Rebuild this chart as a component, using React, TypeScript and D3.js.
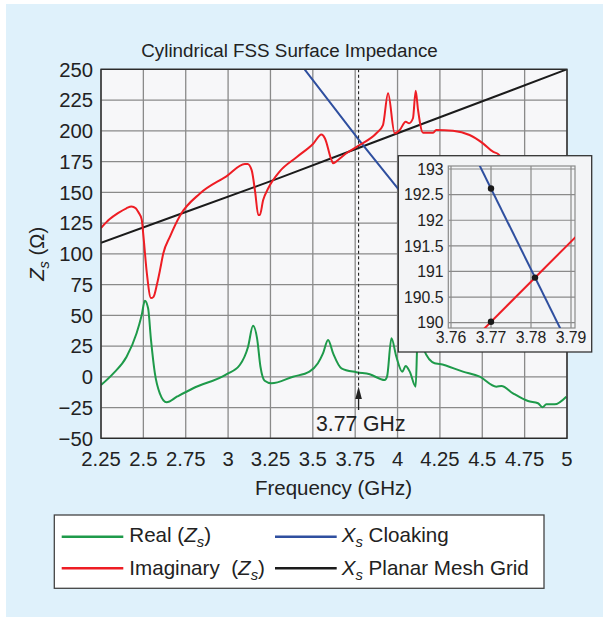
import React from 'react';
import * as d3 from 'd3';

// ---------- data ----------
const freqTicks = [2.25, 2.5, 2.75, 3, 3.25, 3.5, 3.75, 4, 4.25, 4.5, 4.75, 5];
const freqTickLabels = ['2.25', '2.5', '2.75', '3', '3.25', '3.5', '3.75', '4', '4.25', '4.5', '4.75', '5'];
const zTicks = [-50, -25, 0, 25, 50, 75, 100, 125, 150, 175, 200, 225, 250];
const zTickLabels = ['\u221250', '\u221225', '0', '25', '50', '75', '100', '125', '150', '175', '200', '225', '250'];

const realFreq = [2.25, 2.323, 2.401, 2.46, 2.49, 2.509, 2.528, 2.545, 2.568, 2.597, 2.637, 2.7, 2.794, 2.99, 3.069, 3.118, 3.147, 3.171, 3.191, 3.216, 3.256, 3.383, 3.48, 3.53, 3.56, 3.59, 3.62, 3.669, 3.757, 3.836, 3.924, 3.938, 3.964, 3.993, 4.028, 4.048, 4.072, 4.107, 4.118, 4.13, 4.155, 4.219, 4.249, 4.386, 4.485, 4.583, 4.613, 4.681, 4.77, 4.829, 4.855, 4.878, 4.927, 4.996];
const realZ = [-6.7, 2.8, 16.3, 35.4, 50, 61.9, 55.7, 30, 2.8, -13.4, -20.7, -16, -9.3, 2.0, 9.6, 24.5, 41.5, 31.3, 8.2, -3.2, -5.3, 0.1, 4.2, 11, 19, 30, 19, 6.9, 3.7, 2.0, -2.6, 0.1, 31.3, 16.3, 4.2, 8.8, 4.2, -8, 30, 32, 22, 11, 10.4, 4.2, 0.1, -8, -7.5, -13.4, -19.7, -21.5, -24.8, -22.4, -22.4, -16.2];

const imagFreq = [2.25, 2.3, 2.35, 2.4, 2.43, 2.455, 2.47, 2.49, 2.5, 2.52, 2.545, 2.56, 2.58, 2.6, 2.617, 2.657, 2.716, 2.834, 2.99, 3.099, 3.115, 3.139, 3.16, 3.178, 3.187, 3.207, 3.237, 3.305, 3.404, 3.502, 3.551, 3.571, 3.61, 3.62, 3.649, 3.698, 3.777, 3.875, 3.914, 3.944, 3.983, 4.013, 4.048, 4.068, 4.091, 4.107, 4.121, 4.15, 4.21, 4.228, 4.327, 4.425, 4.504, 4.563, 4.593, 4.613, 4.7, 4.8, 4.9, 5];
const imagZ = [121, 128, 133, 137, 138.5, 137, 134, 128, 115, 85, 64, 65, 75, 88, 100, 114, 131, 149, 163, 173, 173, 168, 150, 131.5, 131.5, 143.7, 153.3, 167, 178.5, 189.5, 197, 194, 176.3, 173.6, 176.3, 181.7, 188.5, 198, 204.7, 230.5, 198, 200.7, 207.4, 206.1, 210.2, 232.6, 216.9, 198.5, 198.5, 200.7, 200.1, 196.6, 189.8, 183, 181.1, 178.5, 165, 150, 140, 135];

const cloakFreq = [3.44, 3.781, 4.3];
const cloakX = [252, 191, 102];

const meshFreq = [2.25, 2.75, 3.3, 3.75, 4.25, 5];
const meshX = [109, 134, 161.5, 185, 211, 250];

const insetFreqTicks = [3.76, 3.77, 3.78, 3.79];
const insetFreqLabels = ['3.76', '3.77', '3.78', '3.79'];
const insetZTicks = [190, 190.5, 191, 191.5, 192, 192.5, 193];
const insetZLabels = ['190', '190.5', '191', '191.5', '192', '192.5', '193'];
const insetCloakFreq = [3.766, 3.788];
const insetCloakX = [193.25, 189.78];
const insetImagFreq = [3.768, 3.792];
const insetImagX = [189.86, 191.74];
const markerFreq = [3.77, 3.77, 3.781];
const markerX = [192.62, 190.02, 190.88];

const cursorFreq = 3.77;
const cursorLabel = '3.77 GHz';
const titleText = 'Cylindrical FSS Surface Impedance';
const xLabel = 'Frequency (GHz)';

// ---------- layout ----------
const W = 603, H = 617;
const PL = 101, PR = 567, PT = 69.3, PB = 438.3;
const IB = { x0: 398.3, y0: 155.7, x1: 591.7, y1: 352 };
const IP = { x0: 448.3, y0: 166, x1: 575, y1: 328 };

const FONT = '"Liberation Sans", Arial, Helvetica, sans-serif';
const C = {
  bg: '#dff1fb',
  plotBg: '#f7f7f9',
  grid: '#8a8a8a',
  frame: '#2b2b2b',
  green: '#1e9a4a',
  red: '#ee1d24',
  blue: '#2f4f9f',
  black: '#1b1b1b',
  text: '#222222',
};

const x = d3.scaleLinear().domain([2.25, 5]).range([PL, PR]);
const y = d3.scaleLinear().domain([-50, 250]).range([PB, PT]);
const ix = d3.scaleLinear().domain([3.76, 3.79]).range([451, 571]);
const iy = d3.scaleLinear().domain([190, 193]).range([322.7, 169]);

type P = [number, number];
const zip = (a: number[], b: number[]): P[] => a.map((v, i) => [v, b[i]]);

const mainLine = d3.line<P>().x(d => x(d[0])).y(d => y(d[1])).curve(d3.curveMonotoneX);
const straightLine = d3.line<P>().x(d => x(d[0])).y(d => y(d[1]));
const insetLine = d3.line<P>().x(d => ix(d[0])).y(d => iy(d[1]));

function Sub({ base, sub }: { base: string; sub: string }) {
  return (
    <>
      <tspan fontStyle="italic">{base}</tspan>
      <tspan fontStyle="italic" fontSize="0.72em" dy="5">{sub}</tspan>
    </>
  );
}

export default function App() {
  const cx = x(cursorFreq);
  return (
    <svg width={W} height={H} style={{ position: 'absolute', left: 0, top: 0, display: 'block' }} fontFamily={FONT}>
      <defs>
        <clipPath id="mainClip"><rect x={PL} y={PT} width={PR - PL} height={PB - PT} /></clipPath>
        <clipPath id="insetClip"><rect x={IP.x0} y={IP.y0} width={IP.x1 - IP.x0} height={IP.y1 - IP.y0} /></clipPath>
      </defs>
      <rect x={0} y={0} width={W} height={H} fill="#ffffff" />
      <rect x={6} y={4} width={W - 6} height={H - 4} fill={C.bg} />

      <text x={289.5} y={56.5} textAnchor="middle" fontSize={18.8} fill={C.text}>{titleText}</text>

      {/* main plot */}
      <rect x={PL} y={PT} width={PR - PL} height={PB - PT} fill={C.plotBg} />
      {freqTicks.map(t => (
        <line key={'gx' + t} x1={x(t)} x2={x(t)} y1={PT} y2={PB} stroke={C.grid} strokeWidth={1.3} />
      ))}
      {zTicks.map(t => (
        <line key={'gy' + t} x1={PL} x2={PR} y1={y(t)} y2={y(t)} stroke={C.grid} strokeWidth={1.3} />
      ))}

      <g clipPath="url(#mainClip)" fill="none" strokeWidth={2} strokeLinejoin="round">
        <path d={straightLine(zip(meshFreq, meshX)) || ''} stroke={C.black} />
        <path d={straightLine(zip(cloakFreq, cloakX)) || ''} stroke={C.blue} />
        <path d={mainLine(zip(imagFreq, imagZ)) || ''} stroke={C.red} />
        <path d={mainLine(zip(realFreq, realZ)) || ''} stroke={C.green} />
      </g>

      {/* cursor */}
      <line x1={cx} x2={cx} y1={PT} y2={387} stroke="#222" strokeWidth={1.1} strokeDasharray="3,2.5" />
      <line x1={cx} x2={cx} y1={396} y2={410} stroke="#222" strokeWidth={1.3} />
      <path d={`M${cx},386.5 L${cx - 3.3},399 L${cx + 3.3},399 Z`} fill="#222" />
      <text x={316} y={430.5} fontSize={21.2} fill={C.text}>{cursorLabel}</text>

      <rect x={PL} y={PT} width={PR - PL} height={PB - PT} fill="none" stroke={C.frame} strokeWidth={1.4} />

      {freqTicks.map((t, i) => (
        <text key={'tx' + t} x={x(t)} y={466} textAnchor="middle" fontSize={20.3} fill={C.text}>{freqTickLabels[i]}</text>
      ))}
      {zTicks.map((t, i) => (
        <text key={'ty' + t} x={93} y={y(t)} dy="0.36em" textAnchor="end" fontSize={20.3} fill={C.text}>{zTickLabels[i]}</text>
      ))}

      <text x={333.5} y={494.5} textAnchor="middle" fontSize={20.5} fill={C.text}>{xLabel}</text>
      <text transform={`translate(44,${(PT + PB) / 2}) rotate(-90)`} textAnchor="middle" fontSize={20.3} fill={C.text}>
        <Sub base="Z" sub="s" />
        <tspan dy="-5"> (Ω)</tspan>
      </text>

      {/* inset */}
      <rect x={IB.x0} y={IB.y0} width={IB.x1 - IB.x0} height={IB.y1 - IB.y0} fill="#f3f4f6" stroke="#333" strokeWidth={1.3} />
      {insetFreqTicks.map(t => (
        <line key={'igx' + t} x1={ix(t)} x2={ix(t)} y1={IP.y0} y2={IP.y1} stroke={C.grid} strokeWidth={1.2} />
      ))}
      {insetZTicks.map(t => (
        <line key={'igy' + t} x1={IP.x0} x2={IP.x1} y1={iy(t)} y2={iy(t)} stroke={C.grid} strokeWidth={1.2} />
      ))}
      <rect x={IP.x0} y={IP.y0} width={IP.x1 - IP.x0} height={IP.y1 - IP.y0} fill="none" stroke="#8a8a8a" strokeWidth={1.2} />
      <g clipPath="url(#insetClip)" fill="none" strokeWidth={2}>
        <path d={insetLine(zip(insetCloakFreq, insetCloakX)) || ''} stroke={C.blue} />
        <path d={insetLine(zip(insetImagFreq, insetImagX)) || ''} stroke={C.red} />
      </g>
      {markerFreq.map((f, i) => (
        <circle key={'m' + i} cx={ix(f)} cy={iy(markerX[i])} r={3.2} fill="#1a1a1a" />
      ))}
      {insetFreqTicks.map((t, i) => (
        <text key={'itx' + t} x={ix(t)} y={343} textAnchor="middle" fontSize={15.8} fill={C.text}>{insetFreqLabels[i]}</text>
      ))}
      {insetZTicks.map((t, i) => (
        <text key={'ity' + t} x={443.5} y={iy(t)} dy="0.36em" textAnchor="end" fontSize={15.8} fill={C.text}>{insetZLabels[i]}</text>
      ))}

      {/* legend */}
      <rect x={54.3} y={515} width={544 - 54.3} height={588.3 - 515} fill="#ffffff" stroke="#444" strokeWidth={1.3} />
      <line x1={61.7} x2={123.3} y1={536.7} y2={536.7} stroke={C.green} strokeWidth={2.5} />
      <line x1={61.7} x2={123.3} y1={568.3} y2={568.3} stroke={C.red} strokeWidth={2.5} />
      <line x1={275} x2={336.7} y1={536.7} y2={536.7} stroke={C.blue} strokeWidth={2.5} />
      <line x1={275} x2={336.7} y1={568.3} y2={568.3} stroke={C.black} strokeWidth={2.5} />
      <text x={129.3} y={542} fontSize={20.6} fill={C.text}>
        <tspan>Real (</tspan><Sub base="Z" sub="s" /><tspan dy="-5">)</tspan>
      </text>
      <text x={129.3} y={575} fontSize={20.6} fill={C.text} style={{ whiteSpace: 'pre' }}>
        <tspan>{'Imaginary  ('}</tspan><Sub base="Z" sub="s" /><tspan dy="-5">)</tspan>
      </text>
      <text x={341.7} y={542} fontSize={20.6} fill={C.text}>
        <Sub base="X" sub="s" /><tspan dy="-5"> Cloaking</tspan>
      </text>
      <text x={341.7} y={575} fontSize={20.6} fill={C.text}>
        <Sub base="X" sub="s" /><tspan dy="-5"> Planar Mesh Grid</tspan>
      </text>
    </svg>
  );
}
